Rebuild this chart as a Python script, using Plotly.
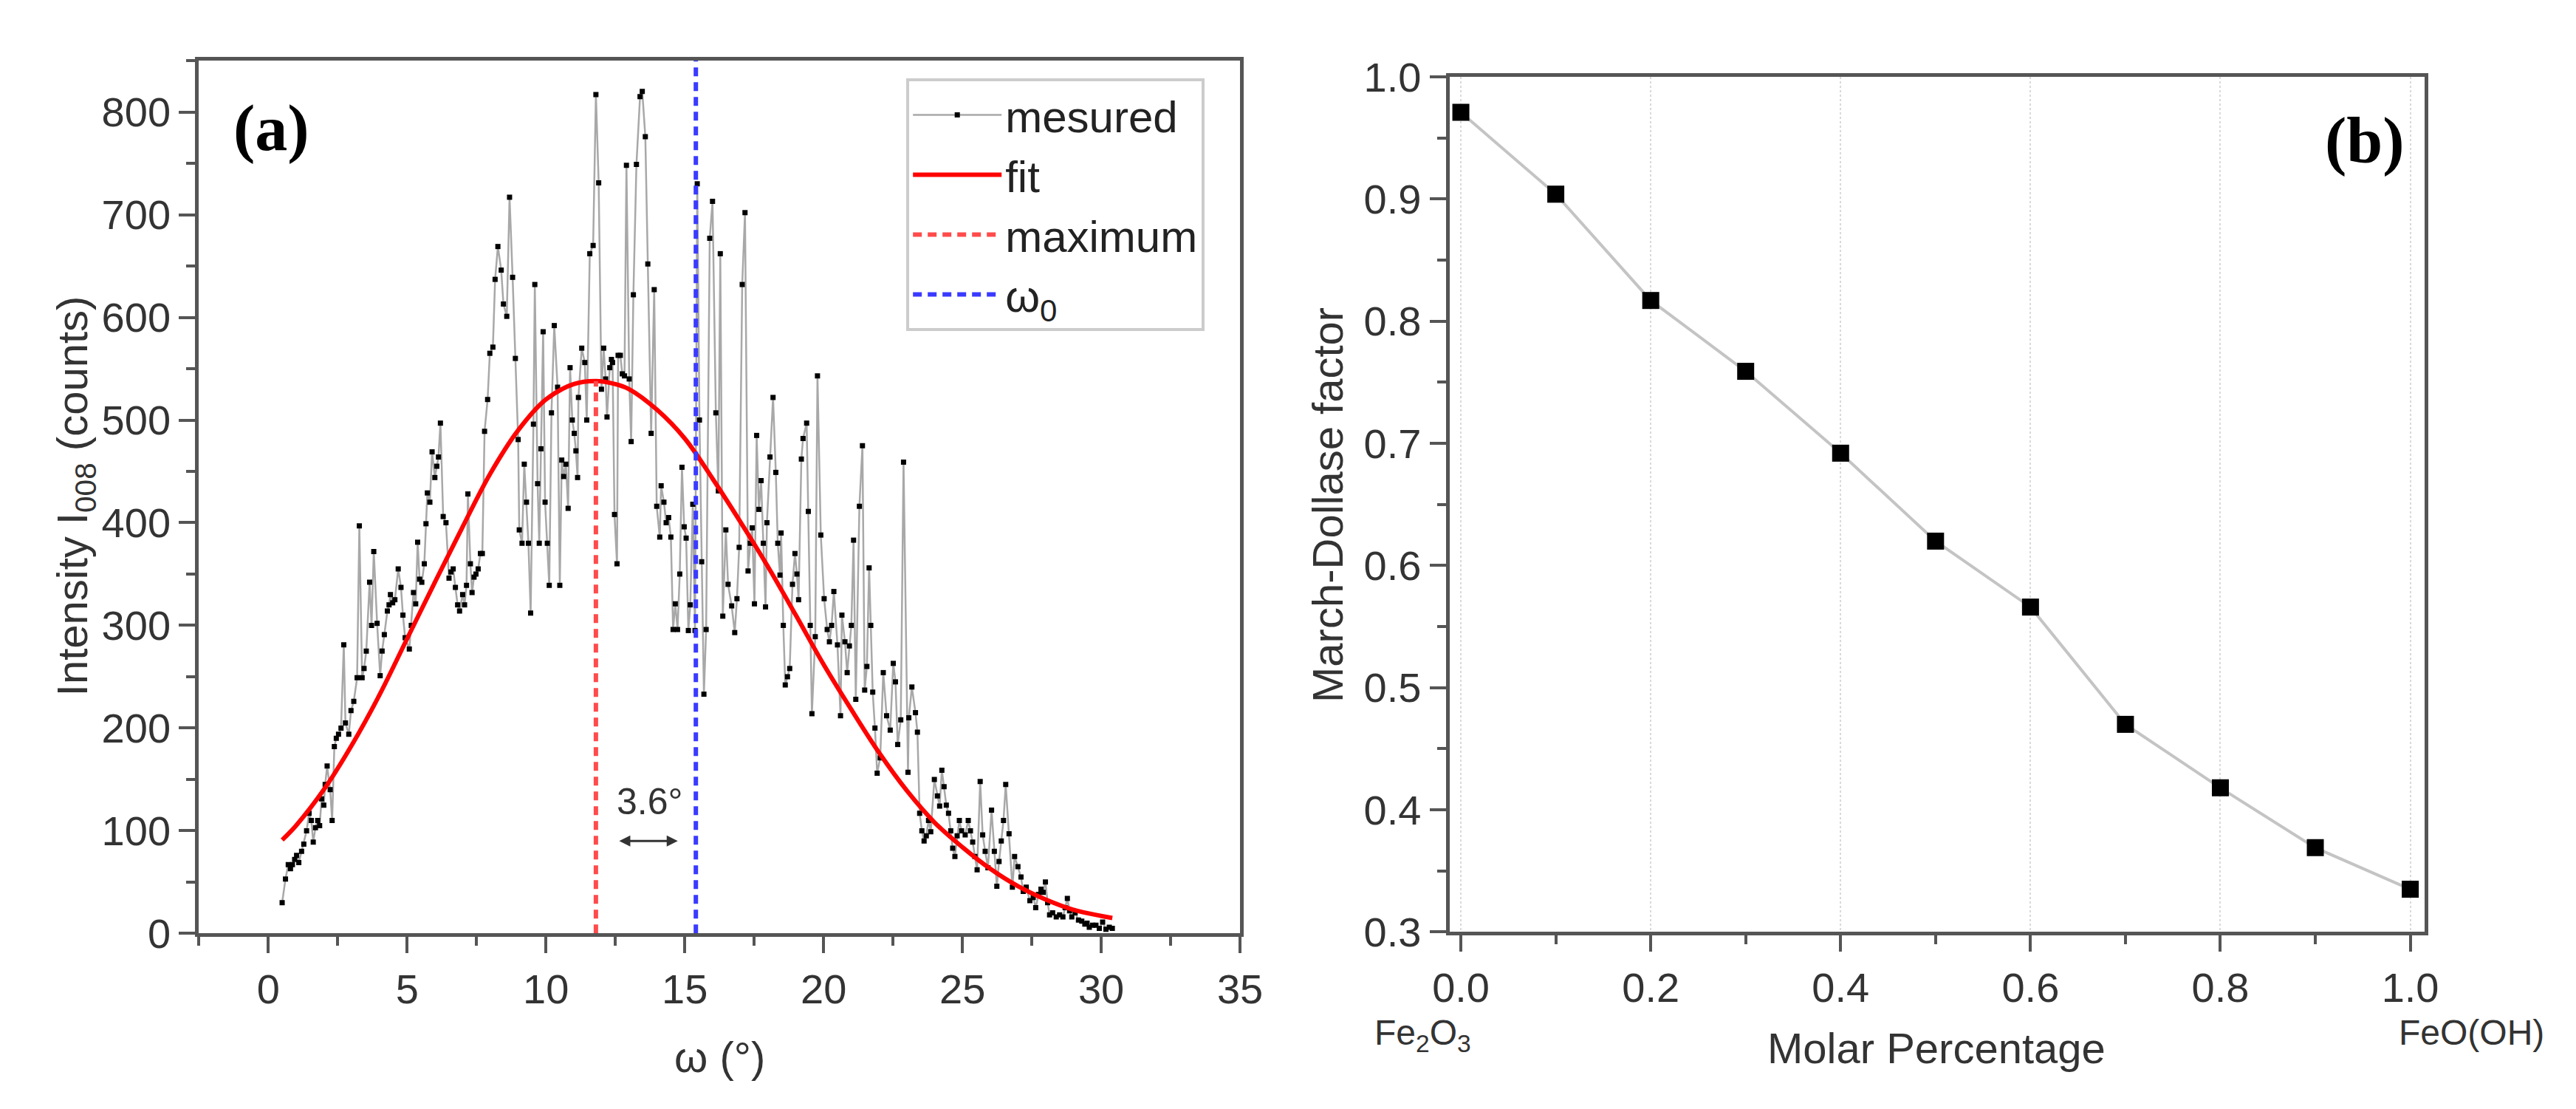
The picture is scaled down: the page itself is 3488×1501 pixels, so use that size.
import plotly.graph_objects as go

# ---------------- Panel (a) data : measured rocking curve ----------------
omega = [0.50, 0.62, 0.72, 0.80, 0.87, 0.95, 1.02, 1.10, 1.20, 1.28, 1.38, 1.47, 1.55, 1.62, 1.70, 1.78,
         1.85, 1.92, 2.00, 2.05, 2.12, 2.23, 2.30, 2.38, 2.45, 2.53, 2.62, 2.72, 2.78, 2.90, 2.98, 3.08,
         3.20, 3.28, 3.38, 3.45, 3.53, 3.65, 3.72, 3.80, 3.92, 4.03, 4.10, 4.18, 4.29, 4.35, 4.40, 4.48,
         4.56, 4.68, 4.78, 4.85, 4.93, 5.08, 5.15, 5.23, 5.31, 5.38, 5.45, 5.53, 5.62, 5.68, 5.73, 5.82,
         5.90, 6.00, 6.07, 6.13, 6.20, 6.30, 6.40, 6.51, 6.58, 6.66, 6.74, 6.82, 6.89, 7.00, 7.07, 7.14,
         7.19, 7.28, 7.34, 7.41, 7.48, 7.56, 7.64, 7.71, 7.79, 7.90, 7.98, 8.09, 8.17, 8.27, 8.39, 8.47,
         8.59, 8.69, 8.80, 8.90, 9.00, 9.04, 9.14, 9.22, 9.30, 9.37, 9.45, 9.55, 9.60, 9.70, 9.76, 9.82,
         9.90, 9.97, 10.05, 10.12, 10.20, 10.30, 10.42, 10.50, 10.57, 10.64, 10.72, 10.80, 10.87, 10.95,
         11.02, 11.08, 11.14, 11.17, 11.29, 11.40, 11.47, 11.58, 11.70, 11.80, 11.90, 12.00, 12.08, 12.15,
         12.20, 12.30, 12.36, 12.40, 12.47, 12.56, 12.60, 12.68, 12.75, 12.83, 12.90, 13.00, 13.07, 13.15,
         13.26, 13.39, 13.47, 13.58, 13.67, 13.79, 13.90, 13.99, 14.10, 14.15, 14.25, 14.33, 14.42, 14.50,
         14.58, 14.66, 14.74, 14.82, 14.90, 14.98, 15.05, 15.13, 15.20, 15.29, 15.37, 15.45, 15.53, 15.61,
         15.69, 15.77, 15.90, 16.00, 16.12, 16.21, 16.28, 16.37, 16.48, 16.56, 16.69, 16.80, 16.88, 16.96,
         17.07, 17.17, 17.28, 17.36, 17.43, 17.51, 17.59, 17.67, 17.75, 17.83, 17.91, 17.96, 18.07, 18.18,
         18.28, 18.35, 18.43, 18.47, 18.55, 18.62, 18.70, 18.78, 18.88, 18.97, 19.04, 19.10, 19.20, 19.26,
         19.39, 19.45, 19.52, 19.58, 19.70, 19.78, 19.90, 20.02, 20.13, 20.21, 20.29, 20.37, 20.50, 20.61,
         20.66, 20.77, 20.85, 20.93, 21.00, 21.08, 21.16, 21.29, 21.40, 21.48, 21.56, 21.64, 21.70, 21.77,
         21.85, 21.93, 22.04, 22.15, 22.27, 22.40, 22.51, 22.59, 22.67, 22.78, 22.88, 23.04, 23.07, 23.18,
         23.31, 23.38, 23.46, 23.54, 23.62, 23.70, 23.78, 23.86, 23.99, 24.10, 24.18, 24.26, 24.34, 24.42,
         24.50, 24.58, 24.65, 24.73, 24.81, 24.89, 24.97, 25.10, 25.21, 25.29, 25.37, 25.45, 25.53, 25.64,
         25.73, 25.82, 25.92, 26.05, 26.15, 26.24, 26.32, 26.40, 26.48, 26.56, 26.68, 26.80, 26.88, 27.00,
         27.11, 27.19, 27.30, 27.43, 27.55, 27.64, 27.74, 27.83, 27.91, 27.99, 28.07, 28.14, 28.25, 28.38,
         28.50, 28.62, 28.70, 28.78, 28.86, 28.94, 29.06, 29.18, 29.30, 29.41, 29.49, 29.57, 29.69, 29.81,
         29.93, 30.05, 30.17, 30.29, 30.40]
intensity = [30, 53, 67, 63, 67, 72, 76, 69, 80, 87, 100, 117, 110, 89, 103, 110,
             105, 131, 125, 145, 163, 140, 110, 182, 190, 194, 200, 281, 205, 194, 217, 226,
             249, 397, 249, 258, 275, 342, 300, 372, 302, 251, 275, 291, 314, 320, 330, 322,
             325, 355, 337, 310, 288, 277, 300, 332, 321, 381, 345, 342, 360, 399, 429, 420,
             469, 444, 455, 464, 497, 406, 400, 346, 352, 355, 337, 320, 314, 330, 320, 339,
             428, 360, 332, 347, 350, 355, 370, 370, 489, 520, 565, 571, 637, 669, 646, 613,
             601, 717, 639, 560, 481, 393, 380, 457, 420, 380, 312, 496, 632, 438, 380, 472,
             586, 420, 380, 339, 507, 592, 532, 339, 461, 445, 457, 414, 551, 500,
             487, 470, 444, 522, 570, 556, 500, 662, 670, 817, 731, 530, 570, 540,
             503, 551, 559, 556, 408, 360, 563, 563, 545, 543, 748, 540, 479, 622,
             749, 815, 820, 776, 652, 487, 627, 416, 386, 436, 420, 400, 405, 386,
             296, 321, 296, 350, 454, 396, 385, 295, 320, 418, 295, 730, 500, 362,
             233, 296, 677, 713, 507, 431, 662, 309, 393, 340, 319, 293, 326, 376,
             632, 702, 353, 380, 395, 321, 485, 413, 441, 380, 318, 400, 464, 522,
             449, 380, 349, 390, 300, 242, 250, 258, 340, 370, 350, 325, 462, 482,
             497, 411, 300, 214, 289, 543, 388, 326, 296, 284, 300, 333, 281, 212,
             310, 284, 254, 280, 300, 383, 228, 416, 475, 237, 260, 356, 300, 235,
             200, 156, 171, 254, 212, 198, 263, 245, 184, 208, 459, 157, 210, 240,
             215, 196, 117, 100, 90, 95, 110, 99, 150, 134, 124, 159, 143, 125,
             117, 100, 83, 75, 95, 110, 100, 96, 110, 100, 89, 75, 62, 148,
             96, 80, 64, 120, 80, 46, 70, 90, 110, 145, 97, 45, 75, 65,
             55, 41, 45, 32, 35, 25, 38, 43, 40, 50, 30, 18, 20, 16,
             18, 16, 25, 34, 22, 16, 20, 13, 12, 9, 10, 6, 8, 8,
             5, 11, 4, 6, 5]

# fitted curve
fit_x = [0.5, 1, 2, 3, 4, 5, 6, 7, 8, 9, 10, 11, 11.8, 12.5, 13, 14, 15, 16, 17, 18, 19, 20,
         21, 22, 23, 24, 25, 26, 27, 28, 29, 30, 30.4]
fit_y = [91, 105, 140, 183, 232, 287, 342, 396, 448, 490, 520, 535, 538, 535, 530, 510, 482, 443,
         401, 357, 310, 262, 218, 176, 139, 108, 84, 63, 46, 33, 23, 17, 15]

max_pos = 11.8        # position of fit maximum
max_val = 538
omega0 = 15.4         # omega_0
shift_label = "3.6°"

# ---------------- Panel (b) data ----------------
molar = [0.0, 0.1, 0.2, 0.3, 0.4, 0.5, 0.6, 0.7, 0.8, 0.9, 1.0]
md_factor = [0.971, 0.904, 0.817, 0.759, 0.692, 0.620, 0.566, 0.470, 0.418, 0.369, 0.335]

W, H = 3488, 1501
TICKFONT = dict(family="Liberation Sans Narrow, Arial Narrow, Liberation Sans, Arial", size=56, color="#333333")
TITLEFONT = dict(family="Liberation Sans, Arial", size=58, color="#333333")
AX = "#555555"

def px(xp):
    return xp / W

def py(yp):
    return (H - yp) / H

fig = go.Figure()

fig.add_trace(go.Scatter(
    x=omega, y=intensity, mode="lines+markers", name="mesured",
    line=dict(color="#a8a8a8", width=2.5),
    marker=dict(symbol="square", size=7, color="black"),
    xaxis="x", yaxis="y"))
fig.add_trace(go.Scatter(
    x=fit_x, y=fit_y, mode="lines", name="fit", line_shape="spline",
    line=dict(color="#ff0000", width=6), xaxis="x", yaxis="y"))
fig.add_trace(go.Scatter(
    x=[max_pos, max_pos], y=[0, max_val], mode="lines", name="maximum",
    line=dict(color="#ff4b4b", width=6, dash="12px,8px"), xaxis="x", yaxis="y"))
fig.add_trace(go.Scatter(
    x=[omega0, omega0], y=[0, 850], mode="lines", name="ω<sub>0</sub>",
    line=dict(color="#3a3aff", width=6, dash="12px,8px"), xaxis="x", yaxis="y"))

fig.add_trace(go.Scatter(
    x=molar, y=md_factor, mode="lines+markers", showlegend=False,
    line=dict(color="#c4c4c4", width=4),
    marker=dict(symbol="square", size=23, color="black"),
    xaxis="x2", yaxis="y2"))

common = dict(showline=True, linecolor=AX, linewidth=5, mirror=True, ticks="outside",
              tickcolor=AX, tickwidth=4, ticklen=22, tickfont=TICKFONT, zeroline=False,
              showgrid=False)

fig.update_layout(
    width=W, height=H, margin=dict(l=0, r=0, t=0, b=0),
    paper_bgcolor="white", plot_bgcolor="white",
    xaxis=dict(domain=[px(242), px(1674)], range=[-2.5, 35], dtick=5, tick0=0,
               minor=dict(dtick=2.5, ticks="outside", ticklen=12, tickwidth=4, tickcolor=AX),
               anchor="y", **common),
    yaxis=dict(domain=[py(1278), py(45)], range=[0, 850], dtick=100, tick0=0,
               minor=dict(dtick=50, ticks="outside", ticklen=12, tickwidth=4, tickcolor=AX),
               anchor="x", **common),
    xaxis2=dict(domain=[px(1962), px(3303)], range=[-0.012, 1.015], dtick=0.2, tick0=0,
                tickformat=".1f",
                minor=dict(dtick=0.1, ticks="outside", ticklen=12, tickwidth=4, tickcolor=AX,
                           showgrid=False),
                anchor="y2", **{**common, "showgrid": True}, gridcolor="#d9d9d9",
                gridwidth=2, griddash="dot"),
    yaxis2=dict(domain=[py(1276), py(68)], range=[0.3, 1.0], dtick=0.1, tick0=0.3,
                tickformat=".1f",
                minor=dict(dtick=0.05, ticks="outside", ticklen=12, tickwidth=4, tickcolor=AX),
                anchor="x2", **common),
    legend=dict(x=px(1215), y=py(70), xanchor="left", yanchor="top",
                bgcolor="white", bordercolor="#cccccc", borderwidth=4,
                font=dict(family="Liberation Sans, Arial", size=60, color="#222222"),
                itemwidth=120, tracegroupgap=0),
    showlegend=True,
)

ann = [
    dict(text="<b>(a)</b>", x=px(342), y=py(140), xref="paper", yref="paper", showarrow=False,
         font=dict(family="Liberation Serif, Times New Roman", size=88, color="black"), xanchor="center", yanchor="middle"),
    dict(text="<b>(b)</b>", x=px(3221), y=py(158), xref="paper", yref="paper", showarrow=False,
         font=dict(family="Liberation Serif, Times New Roman", size=88, color="black"), xanchor="center", yanchor="middle"),
    dict(text=shift_label, x=(max_pos + omega0) / 2 + 0.15, y=128, xref="x", yref="y", showarrow=False,
         font=dict(family="Liberation Sans Narrow, Liberation Sans", size=50, color="#333333")),
    dict(text="", x=omega0 - 0.65, y=90, ax=max_pos + 0.8, ay=90, xref="x", yref="y",
         axref="x", ayref="y", showarrow=True, arrowhead=2, arrowside="end+start",
         arrowsize=1, arrowwidth=3, arrowcolor="#333333"),
    dict(text="Intensity I<sub>008</sub> (counts)", x=px(72), y=py(660), xref="paper", yref="paper",
         showarrow=False, textangle=-90, font=TITLEFONT, xanchor="center", yanchor="middle"),
    dict(text="ω (°)", x=px(958), y=py(1452), xref="paper", yref="paper", showarrow=False,
         font=TITLEFONT, xanchor="center", yanchor="middle"),
    dict(text="March-Dollase factor", x=px(1795), y=py(673), xref="paper", yref="paper",
         showarrow=False, textangle=-90, font=TITLEFONT, xanchor="center", yanchor="middle"),
    dict(text="Molar Percentage", x=px(2632), y=py(1440), xref="paper", yref="paper",
         showarrow=False, font=TITLEFONT, xanchor="center", yanchor="middle"),
    dict(text="Fe<sub>2</sub>O<sub>3</sub>", x=px(1925), y=py(1422), xref="paper", yref="paper",
         showarrow=False, font=dict(family="Liberation Sans Narrow, Liberation Sans", size=48, color="#333333"),
         xanchor="center", yanchor="middle"),
    dict(text="FeO(OH)", x=px(3368), y=py(1418), xref="paper", yref="paper",
         showarrow=False, font=dict(family="Liberation Sans Narrow, Liberation Sans", size=48, color="#333333"),
         xanchor="center", yanchor="middle"),
]
fig.update_layout(annotations=ann)

fig.write_html("out.html")
